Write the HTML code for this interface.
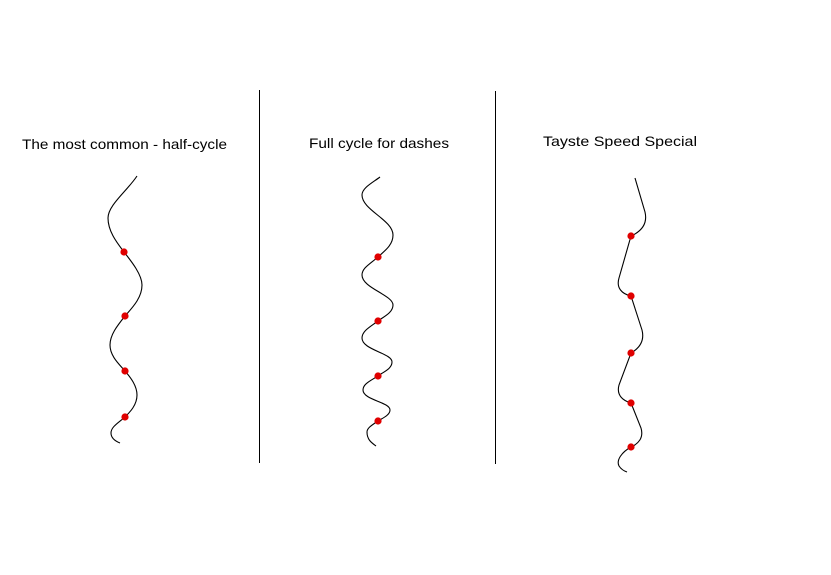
<!DOCTYPE html>
<html><head><style>html,body{margin:0;padding:0;background:#fff;}svg{display:block;}</style></head>
<body>
<svg width="831" height="575" viewBox="0 0 831 575" xmlns="http://www.w3.org/2000/svg">
<rect width="831" height="575" fill="#fff"/>
<g font-family="Liberation Sans, Arial, sans-serif" font-size="14" fill="#000">
<text x="22" y="149" textLength="205" lengthAdjust="spacingAndGlyphs">The most common - half-cycle</text>
<text x="309" y="148" textLength="140" lengthAdjust="spacingAndGlyphs">Full cycle for dashes</text>
<text x="543" y="146" textLength="154" lengthAdjust="spacingAndGlyphs">Tayste Speed Special</text>
</g>
<line x1="259.5" y1="90" x2="259.5" y2="463" stroke="#000" stroke-width="1"/>
<line x1="495.5" y1="91" x2="495.5" y2="464" stroke="#000" stroke-width="1"/>
<g fill="none" stroke="#000" stroke-width="1.1">
<path d="M137,176 C128,190 108,205 108,218 C108,232 118,244 124,252 C132,262 142,275 142,285 C142,298 132,308 125,316 C117,326 110,335 110,345 C110,356 119,364 125,371 C131,378 137,386 137,395 C137,405 130,412 125,417 C118,423 111,427 111,433 C111,438 115,441 120,443"/>
<path d="M380,177 C372,183 362,188 362,195 C362,210 393,220 393,235 C393,246 383,252 378,257 C370,264 362,268 362,275 C362,288 393,295 393,305 C393,313 383,317 378,321 C370,327 362,331 362,338 C362,350 392,353 392,362 C392,369 383,372 378,376 C370,381 363,384 363,390 C363,400 390,402 390,410 C390,415 383,418 378,421 C372,425 367,428 367,432 C367,440 372,443 376,446"/>
<path d="M635,178 L645,212 C648,225 640,232 631,236 L619,278 C616,288 622,294 631,296 L642,330 C645,342 638,349 631,353 L619,385 C616,396 624,401 631,403 L641,428 C644,438 638,444 631,447 C622,452 616,460 619,466 C621,469 624,471 627,472"/>
</g>
<g fill="#e00000">
<circle cx="124" cy="252" r="3.6"/><circle cx="125" cy="316" r="3.6"/><circle cx="125" cy="371" r="3.6"/><circle cx="125" cy="417" r="3.6"/>
<circle cx="378" cy="257" r="3.6"/><circle cx="378" cy="321" r="3.6"/><circle cx="378" cy="376" r="3.6"/><circle cx="378" cy="421" r="3.6"/>
<circle cx="631" cy="236" r="3.6"/><circle cx="631" cy="296" r="3.6"/><circle cx="631" cy="353" r="3.6"/><circle cx="631" cy="403" r="3.6"/><circle cx="631" cy="447" r="3.6"/>
</g>
</svg>
</body></html>
